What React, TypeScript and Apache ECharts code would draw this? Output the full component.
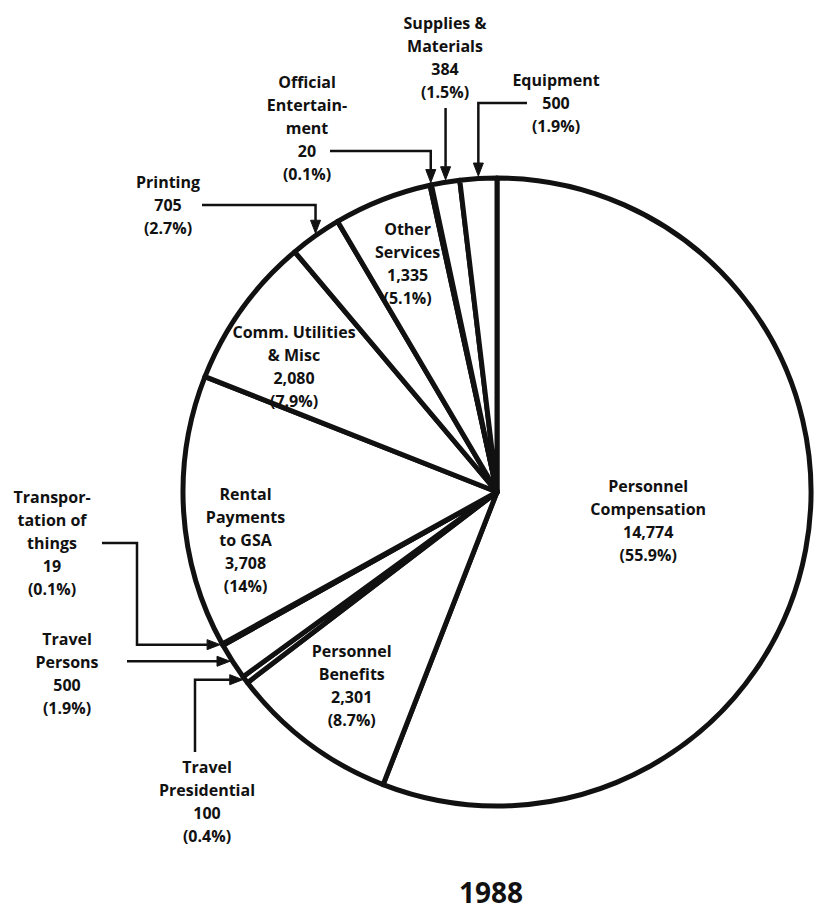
import React, { useEffect, useRef } from "react";
import * as echarts from "echarts";

// ---------- DATA ----------
const categories = [
  "Personnel Compensation",
  "Personnel Benefits",
  "Travel Presidential",
  "Travel Persons",
  "Transportation of things",
  "Rental Payments to GSA",
  "Comm. Utilities & Misc",
  "Printing",
  "Other Services",
  "Official Entertainment",
  "Supplies & Materials",
  "Equipment",
];
const values = [14774, 2301, 100, 500, 19, 3708, 2080, 705, 1335, 20, 384, 500];
const valueTexts = ["14,774", "2,301", "100", "500", "19", "3,708", "2,080", "705", "1,335", "20", "384", "500"];
const percentTexts = ["(55.9%)", "(8.7%)", "(0.4%)", "(1.9%)", "(0.1%)", "(14%)", "(7.9%)", "(2.7%)", "(5.1%)", "(0.1%)", "(1.5%)", "(1.9%)"];
const nameLines = [
  ["Personnel", "Compensation"],
  ["Personnel", "Benefits"],
  ["Travel", "Presidential"],
  ["Travel", "Persons"],
  ["Transpor-", "tation of", "things"],
  ["Rental", "Payments", "to GSA"],
  ["Comm. Utilities", "& Misc"],
  ["Printing"],
  ["Other", "Services"],
  ["Official", "Entertain-", "ment"],
  ["Supplies &", "Materials"],
  ["Equipment"],
];
const yearTitle = "1988";

// ---------- LAYOUT ----------
const CX = 497;
const CY = 492;
const R = 314;
const LH = 23;
const TEXT_STYLE = {
  fontFamily: "'Open Sans', 'DejaVu Sans', sans-serif",
  fontSize: 16,
  fontWeight: 700,
  fill: "#111",
};
const INK = "#111";

type Layout =
  | { kind: "inner"; dTheta: number; rf: number }
  | {
      kind: "outer";
      x: number;
      y: number;
      route: "hv" | "v" | "hvh" | "h" | "vh";
      sx: number;
      sy: number;
      ex?: number;
    };

const layouts: Layout[] = [
  { kind: "inner", dTheta: 0, rf: 0.49 },
  { kind: "inner", dTheta: 0, rf: 0.77 },
  { kind: "outer", x: 207, y: 801, route: "vh", sx: 195, sy: 752 },
  { kind: "outer", x: 67, y: 673, route: "h", sx: 127, sy: 0 },
  { kind: "outer", x: 52, y: 543, route: "hvh", sx: 102, sy: 543, ex: 137 },
  { kind: "inner", dTheta: -7, rf: 0.815 },
  { kind: "inner", dTheta: -4, rf: 0.76 },
  { kind: "outer", x: 168, y: 205, route: "hv", sx: 202, sy: 205 },
  { kind: "inner", dTheta: 0, rf: 0.78 },
  { kind: "outer", x: 307, y: 128, route: "hv", sx: 330, sy: 151 },
  { kind: "outer", x: 445, y: 57, route: "v", sx: 0, sy: 108 },
  { kind: "outer", x: 556, y: 103, route: "hv", sx: 527, sy: 103 },
];

function polar(theta: number, r: number): [number, number] {
  const a = (theta * Math.PI) / 180;
  return [CX + r * Math.sin(a), CY - r * Math.cos(a)];
}

function arrowHead(tx: number, ty: number, ux: number, uy: number) {
  const L = 13;
  const W = 5;
  const bx = tx - ux * L;
  const by = ty - uy * L;
  const px = -uy;
  const py = ux;
  return {
    base: [bx, by] as [number, number],
    poly: [
      [tx, ty],
      [bx + px * W, by + py * W],
      [bx - px * W, by - py * W],
    ],
  };
}

export default function App() {
  const ref = useRef<HTMLDivElement>(null);

  useEffect(() => {
    if (!ref.current) return;
    const chart = echarts.init(ref.current, null, { renderer: "svg" });

    const total = values.reduce((a, b) => a + b, 0);
    const mids: number[] = [];
    let acc = 0;
    values.forEach((v) => {
      mids.push(((acc + v / 2) / total) * 360);
      acc += v;
    });

    const graphics: any[] = [];
    const GAP = 2.5;

    layouts.forEach((lay, i) => {
      const text = [...nameLines[i], valueTexts[i], percentTexts[i]].join("\n");
      let lx: number;
      let ly: number;
      if (lay.kind === "inner") {
        [lx, ly] = polar(mids[i] + lay.dTheta, lay.rf * R);
      } else {
        lx = lay.x;
        ly = lay.y;
        const [mx, my] = polar(mids[i], R);
        let pts: number[][] = [];
        let tip: [number, number];
        let dir: [number, number];
        if (lay.route === "hv" || lay.route === "v") {
          const tx = mx;
          const ty = CY - Math.sqrt(R * R - (tx - CX) * (tx - CX)) - GAP;
          tip = [tx, ty];
          dir = [0, 1];
          if (lay.route === "hv") pts = [[lay.sx, lay.sy], [tx, lay.sy]];
          else pts = [[tx, lay.sy]];
        } else {
          const ty = my;
          const tx = CX - Math.sqrt(R * R - (ty - CY) * (ty - CY)) - GAP;
          tip = [tx, ty];
          dir = [1, 0];
          if (lay.route === "h") pts = [[lay.sx, ty]];
          else if (lay.route === "vh") pts = [[lay.sx, lay.sy], [lay.sx, ty]];
          else pts = [[lay.sx, lay.sy], [lay.ex as number, lay.sy], [lay.ex as number, ty]];
        }
        const ah = arrowHead(tip[0], tip[1], dir[0], dir[1]);
        pts.push(ah.base);
        graphics.push({
          type: "polyline",
          z: 100,
          silent: true,
          shape: { points: pts },
          style: { stroke: INK, lineWidth: 2.5, fill: null },
        });
        graphics.push({
          type: "polygon",
          z: 100,
          silent: true,
          shape: { points: ah.poly },
          style: { fill: INK, stroke: INK, lineWidth: 1 },
        });
      }
      graphics.push({
        type: "text",
        z: 101,
        silent: true,
        x: lx,
        y: ly,
        style: {
          text,
          ...TEXT_STYLE,
          lineHeight: LH,
          align: "center",
          verticalAlign: "middle",
        },
      });
    });

    graphics.push({
      type: "text",
      z: 101,
      silent: true,
      x: 491,
      y: 892,
      style: {
        text: yearTitle,
        fontFamily: "'Open Sans', 'DejaVu Sans', sans-serif",
        fontSize: 28,
        lineHeight: 30,
        fontWeight: 700,
        fill: "#111",
        align: "center",
        verticalAlign: "middle",
      },
    });

    chart.setOption({
      animation: false,
      backgroundColor: "#fff",
      series: [
        {
          type: "pie",
          center: [CX, CY],
          radius: R,
          startAngle: 90,
          clockwise: true,
          avoidLabelOverlap: false,
          silent: true,
          label: { show: false },
          labelLine: { show: false },
          emphasis: { disabled: true, scale: false },
          itemStyle: { color: "#fff", borderColor: INK, borderWidth: 5 },
          data: categories.map((name, i) => ({ name, value: values[i] })),
        },
      ],
      graphic: { elements: graphics },
    });

    return () => chart.dispose();
  }, []);

  return (
    <div
      ref={ref}
      style={{ position: "absolute", left: 0, top: 0, width: 816, height: 911, background: "#fff" }}
    />
  );
}
